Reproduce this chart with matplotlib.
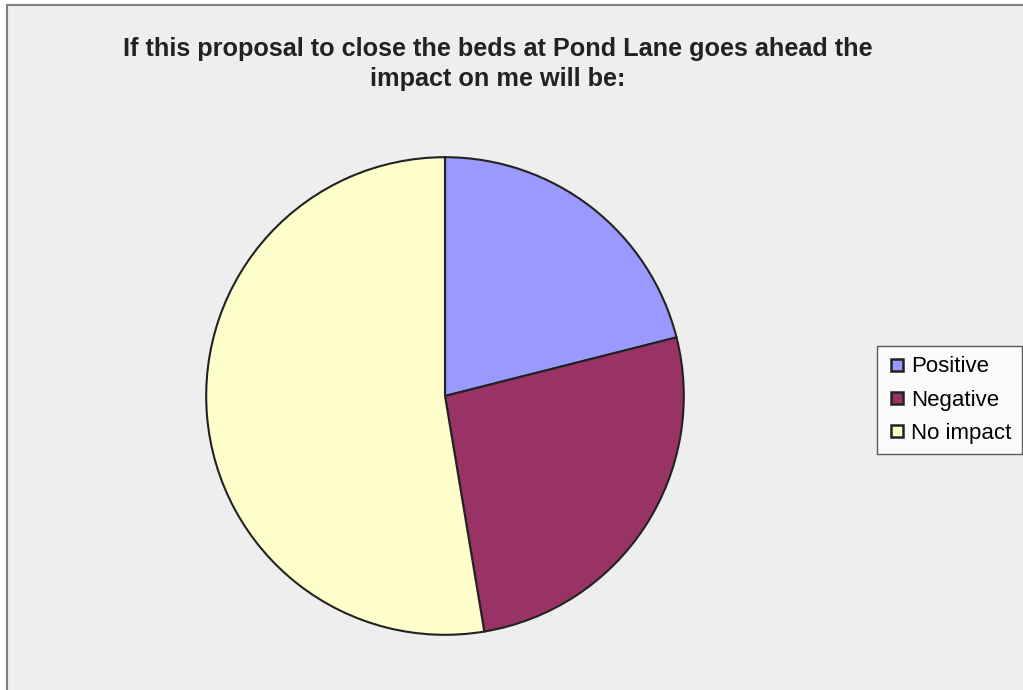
import matplotlib
matplotlib.use("Agg")
import matplotlib.pyplot as plt
from matplotlib.patches import Rectangle
from matplotlib.lines import Line2D

labels = ["Positive", "Negative", "No impact"]
counts = [8, 10, 20]
colors = ["#9999FF", "#993366", "#FFFFCC"]
title = "If this proposal to close the beds at Pond Lane goes ahead the\nimpact on me will be:"

W, H = 1023, 690
fig = plt.figure(figsize=(W / 100, H / 100), dpi=100)
fig.patch.set_facecolor("white")

# chart area frame, clipped at the right and bottom edges
fig.add_artist(Rectangle((7 / W, -0.02), 1.05, 1 - 5 / H + 0.02,
                         transform=fig.transFigure, facecolor="#EEEEEE",
                         edgecolor="#808080", linewidth=1.5, zorder=-5))

fig.text(498 / W, 1 - 64 / H, title, ha="center", va="center",
         fontsize=18.2, fontweight="bold", family="Liberation Sans",
         color="#222222", linespacing=1.3)

r = 240
cx, cy = 445, 396
ax = fig.add_axes([(cx - r) / W, (H - cy - r) / H, 2 * r / W, 2 * r / H])
ax.set_zorder(2)
ax.pie(counts, colors=colors, startangle=90, counterclock=False,
       wedgeprops=dict(edgecolor="#222222", linewidth=1.5))
ax.set_xlim(-1.005, 1.005)
ax.set_ylim(-1.005, 1.005)
ax.set_aspect("equal")
ax.axis("off")

handles = [Line2D([], [], marker="s", linestyle="none", markersize=8.5,
                  markerfacecolor=c, markeredgecolor="#222222",
                  markeredgewidth=1.8) for c in colors]
leg = fig.legend(handles, labels, loc="center left",
                 bbox_to_anchor=(877 / W, 1 - 400 / H),
                 prop=dict(family="Liberation Sans", size=16),
                 frameon=True, fancybox=False, handlelength=0.9,
                 handletextpad=0.2, borderpad=0.45, labelspacing=0.55,
                 borderaxespad=0)
leg.set_zorder(5)
leg.get_frame().set_edgecolor("#333333")
leg.get_frame().set_facecolor("white")
leg.get_frame().set_linewidth(1.0)

fig.savefig("out.png", dpi=100, facecolor=fig.get_facecolor())
